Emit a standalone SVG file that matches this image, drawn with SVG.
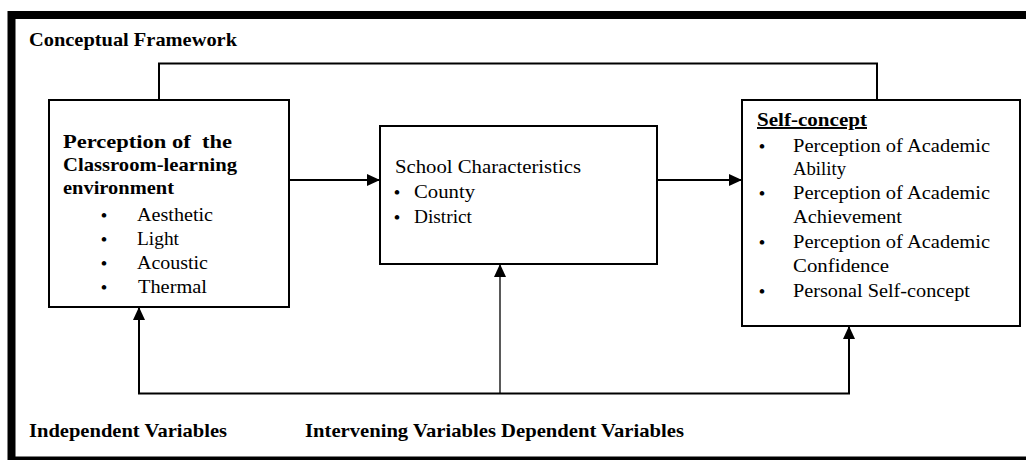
<svg xmlns="http://www.w3.org/2000/svg" width="1026" height="460" viewBox="0 0 1026 460">
<defs>
<style>
.t{font-family:"Liberation Serif","Times New Roman",serif;font-size:19.5px;fill:#000}
.b{font-weight:bold}
.d{font-family:"Liberation Serif","Times New Roman",serif;font-size:17px;font-weight:bold;fill:#000}
.box{fill:#fff;stroke:#000;stroke-width:2}
.c{fill:none;stroke:#000;stroke-width:2}
</style>
<marker id="ah" markerUnits="userSpaceOnUse" markerWidth="13" markerHeight="12" refX="13" refY="6" orient="auto">
<path d="M0,0 L13,6 L0,12 z" fill="#000"/>
</marker>
</defs>
<rect width="1026" height="460" fill="#fff"/>
<rect x="11.5" y="15" width="1030" height="445.5" fill="none" stroke="#000" stroke-width="8"/>
<text class="t b" x="29" y="46" textLength="208" lengthAdjust="spacingAndGlyphs">Conceptual Framework</text>

<g id="connectors">
<polyline class="c" points="159,100 159,63.5 877,63.5 877,100"/>
<line class="c" x1="289" y1="180" x2="380" y2="180" marker-end="url(#ah)"/>
<line class="c" x1="657" y1="180" x2="742" y2="180" marker-end="url(#ah)"/>
<line class="c" x1="138" y1="393.5" x2="850" y2="393.5"/>
<line class="c" x1="139" y1="393.5" x2="139" y2="307" marker-end="url(#ah)"/>
<line class="c" x1="849" y1="393.5" x2="849" y2="326" marker-end="url(#ah)"/>
<line class="c" style="stroke-width:1.3" x1="500" y1="393.5" x2="500" y2="264" marker-end="url(#ah)"/>
</g>

<g id="independent">
<rect class="box" x="49" y="100" width="240" height="207"/>
<text class="t b" x="63" y="148" textLength="169" lengthAdjust="spacingAndGlyphs" xml:space="preserve">Perception of  the</text>
<text class="t b" x="63" y="171" textLength="174" lengthAdjust="spacingAndGlyphs">Classroom-learning</text>
<text class="t b" x="63" y="194" textLength="111" lengthAdjust="spacingAndGlyphs">environment</text>
<text class="d" x="101" y="221">•</text>
<text class="t" x="137" y="221" textLength="76" lengthAdjust="spacingAndGlyphs">Aesthetic</text>
<text class="d" x="101" y="245">•</text>
<text class="t" x="137" y="245" textLength="42" lengthAdjust="spacingAndGlyphs">Light</text>
<text class="d" x="101" y="268.5">•</text>
<text class="t" x="137" y="268.5" textLength="71" lengthAdjust="spacingAndGlyphs">Acoustic</text>
<text class="d" x="101" y="292.5">•</text>
<text class="t" x="138" y="292.5" textLength="69" lengthAdjust="spacingAndGlyphs">Thermal</text>
</g>

<g id="intervening">
<rect class="box" x="380" y="126" width="277" height="138"/>
<text class="t" x="395" y="172.5" textLength="186" lengthAdjust="spacingAndGlyphs">School Characteristics</text>
<text class="d" x="394" y="197.5">•</text>
<text class="t" x="414" y="197.5" textLength="61" lengthAdjust="spacingAndGlyphs">County</text>
<text class="d" x="394" y="222.5">•</text>
<text class="t" x="414" y="222.5" textLength="58" lengthAdjust="spacingAndGlyphs">District</text>
</g>

<g id="dependent">
<rect class="box" x="742" y="100" width="278" height="226"/>
<text class="t b" x="757" y="126" textLength="110" lengthAdjust="spacingAndGlyphs" text-decoration="underline">Self-concept</text>
<text class="d" x="759" y="151.5">•</text>
<text class="t" x="793" y="151.5" textLength="197" lengthAdjust="spacingAndGlyphs">Perception of Academic</text>
<text class="t" x="793" y="175" textLength="53" lengthAdjust="spacingAndGlyphs">Ability</text>
<text class="d" x="759" y="199">•</text>
<text class="t" x="793" y="199" textLength="197" lengthAdjust="spacingAndGlyphs">Perception of Academic</text>
<text class="t" x="793" y="222.5" textLength="109" lengthAdjust="spacingAndGlyphs">Achievement</text>
<text class="d" x="759" y="248">•</text>
<text class="t" x="793" y="248" textLength="197" lengthAdjust="spacingAndGlyphs">Perception of Academic</text>
<text class="t" x="793" y="272" textLength="96" lengthAdjust="spacingAndGlyphs">Confidence</text>
<text class="d" x="759" y="296.5">•</text>
<text class="t" x="793" y="296.5" textLength="177" lengthAdjust="spacingAndGlyphs">Personal Self-concept</text>
</g>

<text class="t b" x="29" y="437" textLength="198" lengthAdjust="spacingAndGlyphs">Independent Variables</text>
<text class="t b" x="305" y="437" textLength="379" lengthAdjust="spacingAndGlyphs">Intervening Variables Dependent Variables</text>
</svg>
